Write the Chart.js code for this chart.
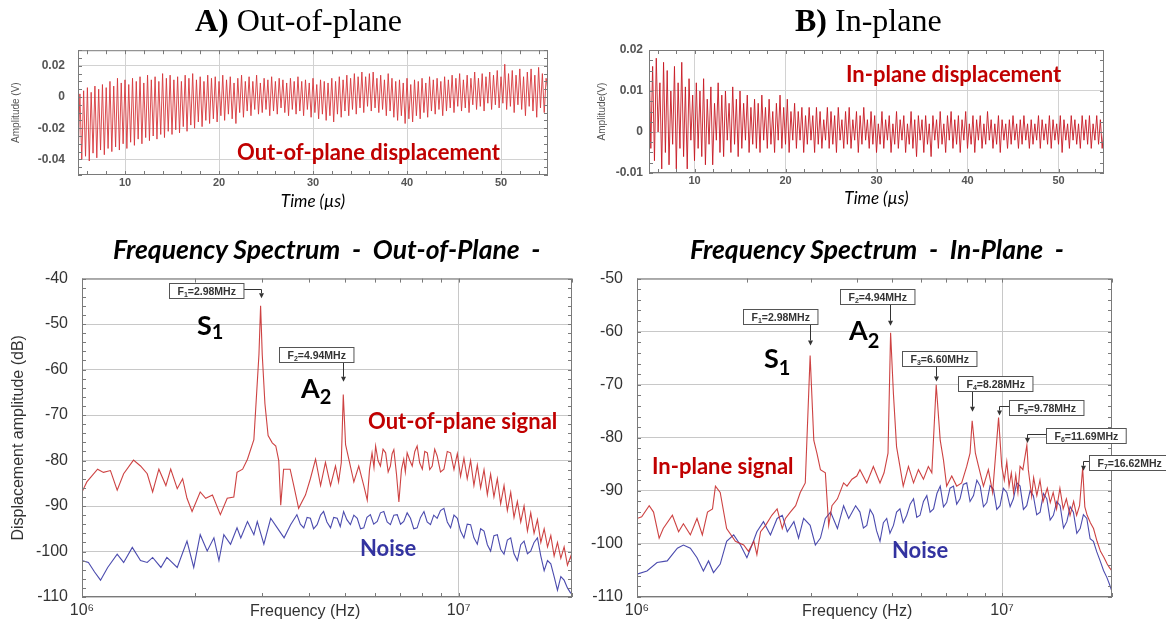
<!DOCTYPE html>
<html>
<head>
<meta charset="utf-8">
<script src="https://cdn.jsdelivr.net/npm/chart.js@4.4.1/dist/chart.umd.min.js"></script>
<style>
  body { margin: 0; width: 1166px; height: 626px; background: #fff; position: relative; overflow: hidden; }
  canvas { position: absolute; }
  .t { position: absolute; white-space: pre; line-height: 1; font-family: Lato, 'Open Sans', sans-serif; font-weight: bold; }
  .red { color: #c00000; font-size: 22px; }
  .blue { color: #3333a0; font-size: 22px; }
  .big { font-size: 27px; color: #000; }
  .big span { font-size: 20px; position: relative; }
  .head { font-family: 'Liberation Serif', 'Times New Roman', serif; font-weight: normal; font-size: 32px; }
  .head b { font-weight: bold; }
  .spec { font-style: italic; font-size: 26.5px; }
  .xt { font-family: 'Liberation Sans', Arial, sans-serif; font-weight: normal; font-size: 16px; color: #333; }
</style>
</head>
<body>
<canvas id="c1" width="580" height="182" style="left:0px;top:30px"></canvas>
<canvas id="c2" width="586" height="179" style="left:580px;top:30px"></canvas>
<canvas id="c3" width="580" height="371" style="left:0px;top:255px"></canvas>
<canvas id="c4" width="586" height="371" style="left:580px;top:255px"></canvas>

<div class="t head" style="left:195px;top:4px"><b>A)</b> Out-of-plane</div>
<div class="t head" style="left:795px;top:4px"><b>B)</b> In-plane</div>
<div class="t spec" style="left:113px;top:236px">Frequency Spectrum  -  Out-of-Plane  -</div>
<div class="t spec" style="left:690px;top:236px">Frequency Spectrum  -  In-Plane  -</div>
<div class="t red" style="left:237px;top:141px">Out-of-plane displacement</div>
<div class="t red" style="left:846px;top:63px">In-plane displacement</div>
<div class="t red" style="left:368px;top:410px">Out-of-plane signal</div>
<div class="t red" style="left:652px;top:455px">In-plane signal</div>
<div class="t blue" style="left:360px;top:537px">Noise</div>
<div class="t blue" style="left:892px;top:539px">Noise</div>
<div class="t big" style="left:197px;top:311px">S<span style="top:4px">1</span></div>
<div class="t big" style="left:301px;top:374px">A<span style="top:6px">2</span></div>
<div class="t big" style="left:764px;top:344px">S<span style="top:7px">1</span></div>
<div class="t big" style="left:849px;top:316px">A<span style="top:8px">2</span></div>
<div class="t xt" style="left:250px;top:603px">Frequency (Hz)</div>
<div class="t xt" style="left:802px;top:603px">Frequency (Hz)</div>

<script>
// time signals, sampled from 5 µs every 0.2 µs
const timeStart = 5
const timeStep = 0.2
const timeTicks = [6, 8, 10, 12, 14, 16, 18, 20, 22, 24, 26, 28, 30, 32, 34, 36, 38, 40, 42, 44, 46, 48, 50, 52, 54]
const timeLabels = [10, 20, 30, 40, 50]

const oopTime = [
  -0.042, 0.002, -0.040, 0.004, -0.038, 0.006, -0.041, 0.003, -0.036, 0.007,
  -0.039, 0.005, -0.034, 0.008, -0.037, 0.006, -0.033, 0.010, -0.035, 0.007,
  -0.032, 0.012, -0.034, 0.009, -0.030, 0.011, -0.033, 0.008, -0.029, 0.012,
  -0.031, 0.010, -0.027, 0.013, -0.030, 0.009, -0.026, 0.014, -0.028, 0.011,
  -0.025, 0.013, -0.027, 0.010, -0.024, 0.015, -0.026, 0.012, -0.022, 0.014,
  -0.024, 0.011, -0.021, 0.013, -0.023, 0.010, -0.019, 0.014, -0.022, 0.012,
  -0.018, 0.015, -0.020, 0.011, -0.016, 0.013, -0.019, 0.010, -0.015, 0.014,
  -0.017, 0.012, -0.014, 0.013, -0.016, 0.010, -0.012, 0.014, -0.015, 0.011,
  -0.011, 0.013, -0.014, 0.009, -0.017, 0.012, -0.010, 0.014, -0.013, 0.010,
  -0.009, 0.013, -0.012, 0.010, -0.008, 0.014, -0.011, 0.009, -0.010, 0.012,
  -0.008, 0.011, -0.012, 0.013, -0.009, 0.010, -0.011, 0.012, -0.007, 0.011,
  -0.010, 0.009, -0.012, 0.012, -0.008, 0.010, -0.011, 0.013, -0.009, 0.010,
  -0.012, 0.011, -0.008, 0.009, -0.013, 0.012, -0.010, 0.008, -0.014, 0.011,
  -0.011, 0.010, -0.015, 0.009, -0.012, 0.012, -0.016, 0.010, -0.011, 0.013,
  -0.013, 0.011, -0.009, 0.014, -0.012, 0.012, -0.008, 0.015, -0.011, 0.013,
  -0.007, 0.016, -0.010, 0.013, -0.006, 0.015, -0.009, 0.016, -0.007, 0.012,
  -0.010, 0.014, -0.008, 0.011, -0.012, 0.015, -0.009, 0.012, -0.013, 0.010,
  -0.015, 0.011, -0.012, 0.009, -0.017, 0.012, -0.014, 0.008, -0.016, 0.011,
  -0.012, 0.010, -0.014, 0.012, -0.010, 0.009, -0.013, 0.013, -0.009, 0.011,
  -0.011, 0.012, -0.008, 0.010, -0.012, 0.013, -0.009, 0.011, -0.007, 0.014,
  -0.010, 0.012, -0.006, 0.015, -0.009, 0.011, -0.007, 0.014, -0.010, 0.012,
  -0.005, 0.016, -0.008, 0.012, -0.006, 0.015, -0.009, 0.013, -0.004, 0.016,
  -0.008, 0.014, -0.005, 0.017, -0.007, 0.013, -0.004, 0.021, -0.008, 0.015,
  -0.006, 0.017, -0.010, 0.014, -0.005, 0.018, -0.008, 0.013, -0.012, 0.016,
  -0.006, 0.018, -0.009, 0.014, -0.013, 0.019, -0.007, 0.015, -0.010, 0.012,
  0.004
]

const ipTime = [
  0.019, -0.004, 0.016, -0.007, 0.018, 0.000, 0.012, -0.009, 0.017, -0.005,
  0.015, -0.008, 0.010, -0.003, 0.016, -0.009, 0.012, -0.004, 0.017, -0.006,
  0.011, -0.009, 0.013, -0.002, 0.009, -0.007, 0.012, -0.004, 0.010, -0.006,
  0.013, -0.008, 0.008, -0.003, 0.011, -0.008, 0.007, -0.002, 0.012, -0.005,
  0.009, -0.006, 0.010, -0.002, 0.007, -0.005, 0.011, -0.003, 0.008, -0.006,
  0.010, -0.004, 0.007, -0.002, 0.009, -0.005, 0.006, -0.003, 0.008, -0.004,
  0.007, -0.005, 0.009, -0.002, 0.006, -0.004, 0.008, -0.003, 0.005, -0.005,
  0.007, -0.002, 0.009, -0.004, 0.006, -0.003, 0.008, -0.005, 0.005, -0.002,
  0.007, -0.004, 0.005, -0.002, 0.006, -0.005, 0.004, -0.003, 0.006, -0.002,
  0.004, -0.005, 0.006, -0.003, 0.005, -0.004, 0.003, -0.002, 0.006, -0.004,
  0.005, -0.003, 0.004, -0.005, 0.006, -0.002, 0.003, -0.004, 0.005, -0.003,
  0.006, -0.004, 0.003, -0.002, 0.005, -0.005, 0.004, -0.003, 0.006, -0.002,
  0.003, -0.004, 0.005, -0.003, 0.004, -0.005, 0.002, -0.003, 0.005, -0.004,
  0.003, -0.002, 0.004, -0.005, 0.002, -0.003, 0.005, -0.004, 0.003, -0.002,
  0.004, -0.005, 0.002, -0.003, 0.005, -0.004, 0.003, -0.006, 0.004, -0.002,
  0.003, -0.005, 0.004, -0.003, 0.002, -0.006, 0.004, -0.002, 0.003, -0.004,
  0.005, -0.003, 0.002, -0.005, 0.004, -0.002, 0.005, -0.004, 0.003, -0.003,
  0.004, -0.005, 0.003, -0.002, 0.005, -0.004, 0.002, -0.003, 0.004, -0.005,
  0.003, -0.002, 0.004, -0.004, 0.002, -0.003, 0.005, -0.002, 0.003, -0.004,
  0.002, -0.003, 0.004, -0.005, 0.003, -0.002, 0.002, -0.004, 0.003, -0.003,
  0.004, -0.002, 0.002, -0.004, 0.003, -0.003, 0.004, -0.002, 0.002, -0.004,
  0.003, -0.003, 0.002, -0.002, 0.004, -0.004, 0.003, -0.002, 0.002, -0.003,
  0.004, -0.004, 0.003, -0.002, 0.002, -0.003, 0.004, -0.005, 0.003, -0.002,
  0.002, -0.004, 0.004, -0.002, 0.003, -0.003, 0.002, -0.004, 0.004, -0.002,
  0.003, -0.003, 0.004, -0.004, 0.002, -0.002, 0.004, -0.003, 0.003, -0.004,
  0.001
]

// spectra: [frequency in MHz, amplitude in dB]
const oopSignal = [
  [1.00, -86.9], [1.03, -84.7], [1.10, -81.9], [1.14, -82.6], [1.19, -82.2], [1.24, -86.5], [1.29, -82.9],
  [1.37, -79.9], [1.43, -81.2], [1.49, -82.9], [1.54, -86.9], [1.60, -81.9], [1.67, -85.5], [1.72, -81.9],
  [1.79, -86.2], [1.85, -84.0], [1.90, -88.3], [1.96, -91.2], [2.06, -86.9], [2.13, -88.3], [2.22, -87.6],
  [2.33, -91.9], [2.43, -88.3], [2.53, -88.0], [2.58, -82.6], [2.67, -81.9], [2.75, -79.7], [2.86, -75.4],
  [2.95, -56.7], [2.98, -46.0], [3.01, -56.7], [3.06, -67.5], [3.12, -74.5], [3.20, -76.1], [3.27, -76.8],
  [3.33, -80.0], [3.37, -89.8], [3.43, -81.9], [3.57, -81.9], [3.65, -85.5], [3.76, -90.5], [3.92, -87.6],
  [4.04, -84.0], [4.17, -79.7], [4.30, -85.5], [4.43, -80.4], [4.57, -85.5], [4.71, -81.2], [4.80, -84.7],
  [4.88, -80.5], [4.94, -65.5], [5.01, -76.5], [5.11, -79.7], [5.27, -84.7], [5.43, -81.2], [5.60, -85.5],
  [5.72, -88.7], [5.80, -82.0], [5.89, -78.3], [5.96, -81.5], [6.02, -76.8], [6.11, -80.0], [6.20, -81.2],
  [6.30, -77.5], [6.40, -78.3], [6.50, -82.5], [6.59, -81.2], [6.66, -78.5], [6.73, -77.6], [6.84, -83.0],
  [6.94, -89.1], [7.05, -82.0], [7.15, -79.7], [7.22, -82.5], [7.30, -78.3], [7.42, -80.0], [7.53, -81.2],
  [7.65, -78.0], [7.76, -76.8], [7.88, -80.5], [8.01, -81.9], [8.13, -78.0], [8.26, -78.3], [8.38, -82.0],
  [8.51, -81.2], [8.64, -77.5], [8.77, -79.0], [8.95, -82.5], [9.14, -81.9], [9.33, -78.0], [9.52, -78.3],
  [9.72, -82.0], [9.92, -78.5], [10.12, -83.5], [10.33, -79.5], [10.54, -84.0], [10.76, -80.0], [10.98, -85.5],
  [11.21, -81.0], [11.44, -86.0], [11.68, -82.0], [11.92, -87.5], [12.16, -83.0], [12.41, -88.0], [12.67, -84.0],
  [12.93, -89.5], [13.20, -85.5], [13.47, -91.0], [13.75, -87.0], [14.03, -92.5], [14.32, -89.0], [14.62, -93.5],
  [14.92, -90.0], [15.23, -95.5], [15.54, -91.5], [15.86, -96.0], [16.19, -93.0], [16.53, -98.0], [16.87, -95.0],
  [17.22, -99.0], [17.57, -96.5], [17.93, -101.0], [18.30, -98.0], [18.68, -101.5], [19.06, -99.0], [19.45, -103.0],
  [19.86, -101.0], [20.0, -102.5]
]

const oopNoise = [
  [1.00, -102.0], [1.04, -102.4], [1.08, -104.5], [1.12, -106.3], [1.17, -103.5], [1.24, -100.6], [1.29, -102.4],
  [1.36, -99.1], [1.43, -102.0], [1.49, -102.4], [1.54, -101.3], [1.62, -103.5], [1.68, -101.3], [1.79, -103.5],
  [1.90, -97.7], [1.98, -103.5], [2.06, -96.3], [2.15, -99.9], [2.24, -97.0], [2.31, -102.0], [2.38, -96.3],
  [2.48, -98.4], [2.58, -94.8], [2.64, -97.0], [2.75, -93.4], [2.86, -96.3], [2.92, -93.4], [3.04, -98.4],
  [3.17, -92.7], [3.30, -94.8], [3.44, -97.0], [3.58, -94.1], [3.72, -91.9], [3.80, -94.0], [3.88, -94.8],
  [3.96, -92.5], [4.04, -92.7], [4.12, -95.0], [4.21, -94.1], [4.30, -92.0], [4.38, -91.2], [4.47, -93.5],
  [4.57, -94.8], [4.66, -92.5], [4.76, -92.7], [4.85, -94.5], [4.95, -91.2], [5.05, -93.0], [5.16, -94.1],
  [5.27, -92.0], [5.38, -92.7], [5.49, -95.0], [5.60, -94.8], [5.71, -92.5], [5.83, -91.9], [5.95, -94.0],
  [6.08, -93.4], [6.20, -91.5], [6.33, -91.2], [6.46, -93.5], [6.59, -94.1], [6.73, -92.0], [6.87, -91.9],
  [7.01, -94.0], [7.15, -93.4], [7.30, -91.5], [7.45, -92.7], [7.60, -95.0], [7.76, -94.8], [7.92, -92.5],
  [8.09, -91.2], [8.25, -93.5], [8.42, -94.1], [8.59, -92.0], [8.77, -92.7], [8.95, -91.0], [9.14, -90.5],
  [9.33, -93.5], [9.52, -94.8], [9.72, -92.0], [9.92, -92.7], [10.12, -95.5], [10.33, -97.0], [10.54, -94.0],
  [10.76, -94.1], [10.98, -97.0], [11.21, -98.4], [11.44, -95.0], [11.68, -95.5], [11.92, -98.5], [12.16, -99.9],
  [12.41, -96.5], [12.67, -96.3], [12.93, -99.5], [13.20, -100.6], [13.47, -97.5], [13.75, -97.0], [14.03, -100.5],
  [14.32, -102.0], [14.62, -98.5], [14.92, -97.7], [15.23, -100.5], [15.54, -99.9], [15.86, -98.0], [16.19, -97.0],
  [16.53, -101.0], [16.87, -104.2], [17.22, -102.0], [17.57, -102.7], [17.93, -105.5], [18.30, -108.5], [18.68, -105.5],
  [19.06, -106.3], [19.45, -108.0], [19.86, -109.2]
]

const ipSignal = [
  [1.00, -95.2], [1.03, -94.9], [1.08, -92.8], [1.11, -94.0], [1.15, -98.9], [1.18, -97.1], [1.25, -94.6],
  [1.30, -97.7], [1.34, -96.2], [1.40, -98.3], [1.46, -95.2], [1.51, -98.3], [1.56, -94.0], [1.61, -93.4],
  [1.64, -89.1], [1.69, -90.3], [1.76, -97.1], [1.86, -99.5], [1.96, -100.2], [2.02, -101.4], [2.09, -99.5],
  [2.13, -102.0], [2.18, -97.7], [2.25, -96.5], [2.34, -94.6], [2.42, -93.4], [2.50, -97.1], [2.55, -95.2],
  [2.63, -94.0], [2.72, -92.8], [2.80, -90.3], [2.89, -88.5], [2.98, -64.5], [3.05, -80.5], [3.11, -82.9],
  [3.18, -86.0], [3.28, -86.6], [3.35, -96.5], [3.42, -92.8], [3.54, -91.5], [3.68, -88.5], [3.76, -89.1],
  [3.88, -87.8], [4.00, -87.2], [4.08, -86.0], [4.26, -88.5], [4.44, -85.4], [4.63, -88.5], [4.75, -86.6],
  [4.87, -82.9], [4.95, -60.2], [5.04, -71.8], [5.14, -81.7], [5.25, -85.4], [5.36, -89.1], [5.54, -85.4],
  [5.72, -88.5], [5.90, -86.0], [6.09, -87.8], [6.28, -85.4], [6.42, -86.6], [6.60, -70.0], [6.77, -80.5],
  [6.91, -84.2], [7.05, -89.1], [7.28, -87.2], [7.51, -89.1], [7.75, -88.5], [8.00, -85.4], [8.17, -82.9],
  [8.28, -76.8], [8.45, -82.9], [8.62, -85.4], [8.89, -89.1], [9.17, -86.0], [9.42, -90.3], [9.78, -76.2],
  [9.98, -85.4], [10.14, -88.0], [10.30, -84.5], [10.45, -89.1], [10.60, -86.6], [10.75, -90.3], [10.90, -87.0],
  [11.05, -90.3], [11.20, -85.4], [11.40, -86.0], [11.69, -81.4], [11.80, -86.0], [11.90, -88.0], [12.05, -91.0],
  [12.20, -87.5], [12.45, -90.9], [12.70, -88.0], [12.95, -92.0], [13.30, -89.5], [13.55, -92.2], [13.80, -90.3],
  [14.10, -93.4], [14.40, -89.5], [14.70, -93.4], [15.00, -91.5], [15.35, -94.6], [15.70, -92.0], [16.00, -94.6],
  [16.30, -92.8], [16.62, -85.7], [16.85, -93.0], [17.10, -94.6], [17.45, -96.0], [17.80, -97.1], [18.20, -99.5],
  [18.60, -101.4], [19.00, -102.5], [19.40, -103.8], [19.70, -104.5], [20.0, -105.1]
]

const ipNoise = [
  [1.00, -105.7], [1.065, -105.1], [1.135, -103.5], [1.21, -103.2], [1.29, -100.8], [1.34, -100.2], [1.40, -100.8],
  [1.46, -102.6], [1.52, -105.1], [1.57, -103.2], [1.62, -105.4], [1.69, -103.8], [1.76, -99.5], [1.84, -98.3],
  [1.92, -100.2], [2.00, -102.6], [2.065, -100.2], [2.13, -97.7], [2.22, -95.8], [2.32, -98.3], [2.42, -95.2],
  [2.50, -94.6], [2.58, -97.7], [2.69, -95.8], [2.77, -98.9], [2.86, -95.2], [2.98, -96.5], [3.08, -100.2],
  [3.18, -98.9], [3.28, -95.2], [3.39, -94.0], [3.54, -97.1], [3.68, -92.8], [3.80, -95.2], [3.97, -92.8],
  [4.08, -94.0], [4.17, -97.0], [4.26, -96.5], [4.35, -93.5], [4.44, -94.6], [4.53, -97.5], [4.63, -99.5],
  [4.73, -96.0], [4.83, -95.2], [4.93, -98.0], [5.04, -96.5], [5.14, -94.0], [5.25, -93.4], [5.36, -96.0],
  [5.48, -94.6], [5.60, -92.5], [5.72, -91.5], [5.84, -95.0], [5.96, -94.6], [6.09, -92.0], [6.22, -90.9],
  [6.35, -94.0], [6.49, -93.4], [6.63, -90.5], [6.77, -89.1], [6.91, -93.0], [7.05, -92.2], [7.20, -89.5],
  [7.36, -89.1], [7.51, -92.5], [7.67, -91.5], [7.83, -88.8], [8.00, -88.5], [8.17, -92.0], [8.35, -90.9],
  [8.53, -88.0], [8.71, -89.1], [8.89, -93.0], [9.08, -92.2], [9.27, -89.0], [9.47, -89.7], [9.67, -93.5],
  [9.87, -92.8], [10.08, -89.5], [10.30, -90.3], [10.52, -93.0], [10.74, -91.5], [10.97, -88.5], [11.20, -89.1],
  [11.44, -93.5], [11.68, -92.8], [11.93, -90.0], [12.18, -90.9], [12.44, -94.5], [12.71, -94.0], [12.98, -90.5],
  [13.26, -91.5], [13.54, -95.5], [13.82, -94.6], [14.12, -92.0], [14.42, -92.8], [14.73, -97.0], [15.04, -95.8],
  [15.36, -93.0], [15.68, -94.0], [16.02, -98.0], [16.36, -97.1], [16.70, -94.5], [17.06, -95.2], [17.42, -99.0],
  [17.79, -99.5], [18.17, -101.5], [18.56, -103.2], [18.96, -105.0], [19.36, -106.3], [19.66, -107.5], [19.96, -108.8]
]

// axis ticks (MHz on the log axis)
const freqTicks = [1, 2, 3, 4, 5, 6, 7, 8, 9, 10, 20]
const freqLabels = { 1: '10⁶', 10: '10⁷' }

// peak call-outs: peak frequency, arrow tip (dB), box centre (MHz, dB), how the leader leaves the box
const oopPeaks = [
  { n: '1', text: '2.98MHz', f: 2.98, tip: -44.3, boxF: 2.14, boxDb: -42.6, link: 'right' },
  { n: '2', text: '4.94MHz', f: 4.94, tip: -62.7, boxF: 4.18, boxDb: -56.7, link: 'down' }
]
const ipPeaks = [
  { n: '1', text: '2.98MHz', f: 2.98, tip: -62.6, boxF: 2.46, boxDb: -57.2, link: 'down' },
  { n: '2', text: '4.94MHz', f: 4.94, tip: -58.9, boxF: 4.54, boxDb: -53.3, link: 'down' },
  { n: '3', text: '6.60MHz', f: 6.60, tip: -69.4, boxF: 6.71, boxDb: -65.0, link: 'down' },
  { n: '4', text: '8.28MHz', f: 8.28, tip: -75.1, boxF: 9.58, boxDb: -69.7, link: 'down' },
  { n: '5', text: '9.78MHz', f: 9.78, tip: -75.8, boxF: 13.23, boxDb: -74.2, link: 'left' },
  { n: '6', text: '11.69MHz', f: 11.69, tip: -81.0, boxF: 16.94, boxDb: -79.5, link: 'left' },
  { n: '7', text: '16.62MHz', f: 16.62, tip: -86.2, boxF: 22.3, boxDb: -84.7, link: 'left' }
]

Chart.defaults.font.family = "'Liberation Sans', Arial, sans-serif"
Chart.defaults.color = '#444'
Chart.defaults.animation = false

const isMultiple = (v, step) => Math.abs(v / step - Math.round(v / step)) < 1e-6

// box round the plot plus small inward tick marks on all four sides
const framePlugin = {
  id: 'frame',
  afterDatasetsDraw(chart) {
    const { ctx, chartArea: a, scales } = chart
    const len = 4
    ctx.save()
    ctx.strokeStyle = '#7a7a7a'
    ctx.lineWidth = 1
    ctx.beginPath()
    scales.x.ticks.forEach((t) => {
      const px = Math.round(scales.x.getPixelForValue(t.value)) + 0.5
      ctx.moveTo(px, a.bottom); ctx.lineTo(px, a.bottom - len)
      ctx.moveTo(px, a.top); ctx.lineTo(px, a.top + len)
    })
    scales.y.ticks.forEach((t) => {
      const py = Math.round(scales.y.getPixelForValue(t.value)) + 0.5
      ctx.moveTo(a.left, py); ctx.lineTo(a.left + len, py)
      ctx.moveTo(a.right, py); ctx.lineTo(a.right - len, py)
    })
    ctx.stroke()
    ctx.strokeRect(a.left + 0.5, a.top + 0.5, a.right - a.left - 1, a.bottom - a.top - 1)
    ctx.restore()
  }
}

// boxed frequency labels with an arrow down to each peak
const peakPlugin = {
  id: 'peaks',
  afterDatasetsDraw(chart, args, opts) {
    const peaks = opts.items || []
    const { ctx, scales: { x, y } } = chart
    const big = 'bold 10.5px "Liberation Sans", Arial'
    const small = 'bold 7px "Liberation Sans", Arial'
    ctx.save()
    peaks.forEach((p) => {
      const tx = Math.round(x.getPixelForValue(p.f)) + 0.5
      const ty = y.getPixelForValue(p.tip)
      const cx = x.getPixelForValue(p.boxF)
      const cy = y.getPixelForValue(p.boxDb)
      ctx.font = big
      const wF = ctx.measureText('F').width
      const wT = ctx.measureText('=' + p.text).width
      ctx.font = small
      const wN = ctx.measureText(p.n).width
      const w = wF + wN + wT + 16
      const h = 15
      const bx = Math.round(cx - w / 2) + 0.5
      const by = Math.round(cy - h / 2) + 0.5

      ctx.strokeStyle = '#333'
      ctx.fillStyle = '#333'
      ctx.lineWidth = 1
      ctx.beginPath()
      if (p.link === 'down') {
        ctx.moveTo(tx, by + h)
        ctx.lineTo(tx, ty - 5)
      } else {
        const ly = Math.round(by + 5) + 0.5
        ctx.moveTo(p.link === 'left' ? bx : bx + w, ly)
        ctx.lineTo(tx, ly)
        ctx.lineTo(tx, ty - 5)
      }
      ctx.stroke()
      ctx.beginPath()
      ctx.moveTo(tx - 2.5, ty - 5)
      ctx.lineTo(tx + 2.5, ty - 5)
      ctx.lineTo(tx, ty)
      ctx.closePath()
      ctx.fill()

      ctx.fillStyle = '#fff'
      ctx.fillRect(bx, by, w, h)
      ctx.strokeStyle = '#555'
      ctx.strokeRect(bx, by, w, h)
      ctx.fillStyle = '#333'
      ctx.textBaseline = 'alphabetic'
      let px = bx + 8
      const base = by + 11
      ctx.font = big
      ctx.fillText('F', px, base)
      px += wF
      ctx.font = small
      ctx.fillText(p.n, px, base + 2)
      px += wN
      ctx.font = big
      ctx.fillText('=' + p.text, px, base)
    })
    ctx.restore()
  }
}

function timeChart(id, values, o) {
  const points = values.map((v, i) => ({ x: timeStart + i * timeStep, y: v }))
  return new Chart(document.getElementById(id), {
    type: 'line',
    data: { datasets: [{ data: points, borderColor: o.color, borderWidth: 1, pointRadius: 0, tension: 0 }] },
    options: {
      responsive: false,
      events: [],
      layout: { padding: o.padding },
      plugins: { legend: { display: false }, tooltip: { enabled: false } },
      scales: {
        x: {
          type: 'linear', min: 5, max: 55,
          afterBuildTicks: (s) => { s.ticks = timeTicks.map((v) => ({ value: v })) },
          afterFit: (s) => { s.height = o.xh },
          ticks: { autoSkip: false, maxRotation: 0, padding: 1, color: '#555',
            font: { size: 11, weight: 'bold' },
            callback: (v) => (timeLabels.includes(v) ? String(v) : '') },
          grid: { drawTicks: false, color: (c) => (c.tick && timeLabels.includes(c.tick.value) ? '#d2d2d2' : 'transparent') },
          border: { display: false },
          title: { display: true, text: 'Time (µs)', color: '#000', padding: { top: 0, bottom: 0 },
            font: { family: 'Lato', size: 17, style: 'italic' } }
        },
        y: {
          min: o.yMin, max: o.yMax,
          afterFit: (s) => { s.width = o.yw },
          ticks: { stepSize: o.yMinor, autoSkip: false, padding: o.yPad, color: '#555',
            font: { size: 12, weight: 'bold' },
            callback: (v) => (isMultiple(v, o.yMajor) ? String(Math.round(v * 1000) / 1000) : '') },
          grid: { drawTicks: false, color: (c) => (c.tick && isMultiple(c.tick.value, o.yMajor) ? '#d2d2d2' : 'transparent') },
          border: { display: false },
          title: { display: true, text: o.yTitle, color: '#555', padding: { top: o.yTitlePad, bottom: 0 }, font: { size: 10 } }
        }
      }
    },
    plugins: [framePlugin]
  })
}

function spectrumChart(id, signal, noise, peaks, o) {
  const toXY = (p) => ({ x: p[0], y: p[1] })
  return new Chart(document.getElementById(id), {
    type: 'line',
    data: {
      datasets: [
        { data: signal.map(toXY), borderColor: 'rgba(200,45,45,0.9)', borderWidth: 1.1, pointRadius: 0, tension: 0 },
        { data: noise.map(toXY), borderColor: 'rgba(55,55,165,0.9)', borderWidth: 1.1, pointRadius: 0, tension: 0 }
      ]
    },
    options: {
      responsive: false,
      events: [],
      layout: { padding: o.padding },
      plugins: { legend: { display: false }, tooltip: { enabled: false }, peaks: { items: peaks } },
      scales: {
        x: {
          type: 'logarithmic', min: 1, max: 20,
          afterBuildTicks: (s) => { s.ticks = freqTicks.map((v) => ({ value: v })) },
          afterFit: (s) => { s.height = 29 },
          ticks: { autoSkip: false, maxRotation: 0, padding: 4, color: '#333', font: { size: 16 },
            callback: (v) => freqLabels[v] || '' },
          grid: { drawTicks: false, color: (c) => (c.tick && freqLabels[c.tick.value] ? '#c8c8c8' : 'transparent') },
          border: { display: false }
        },
        y: {
          min: -110, max: o.yMax,
          afterFit: (s) => { s.width = o.yw },
          ticks: { stepSize: 2, autoSkip: false, padding: 14, color: '#333', font: { size: 16 },
            callback: (v) => (isMultiple(v, 10) ? String(v) : '') },
          grid: { drawTicks: false, color: (c) => (c.tick && isMultiple(c.tick.value, 10) ? '#c8c8c8' : 'transparent') },
          border: { display: false },
          title: { display: !!o.yTitle, text: o.yTitle, color: '#333', padding: { top: 9, bottom: 0 }, font: { size: 16 } }
        }
      }
    },
    plugins: [framePlugin, peakPlugin]
  })
}

timeChart('c1', oopTime, {
  color: 'rgba(215,55,60,0.9)', padding: { left: 0, top: 18, right: 32, bottom: 0 },
  xh: 37, yw: 78, yPad: 13, yTitle: 'Amplitude (V)', yTitlePad: 10,
  yMin: -0.05, yMax: 0.03, yMajor: 0.02, yMinor: 0.005
})
timeChart('c2', ipTime, {
  color: 'rgba(200,25,35,0.9)', padding: { left: 0, top: 20, right: 62, bottom: 0 },
  xh: 36, yw: 69, yPad: 6, yTitle: 'Amplitude(V)', yTitlePad: 16,
  yMin: -0.01, yMax: 0.02, yMajor: 0.01, yMinor: 0.0025
})
spectrumChart('c3', oopSignal, oopNoise, oopPeaks, {
  padding: { left: 0, top: 18, right: 8, bottom: 0 }, yw: 82,
  yMax: -40, yTitle: 'Displacement amplitude (dB)'
})
spectrumChart('c4', ipSignal, ipNoise, ipPeaks, {
  padding: { left: 0, top: 17, right: 54, bottom: 0 }, yw: 57,
  yMax: -50, yTitle: ''
})
</script>
</body>
</html>
